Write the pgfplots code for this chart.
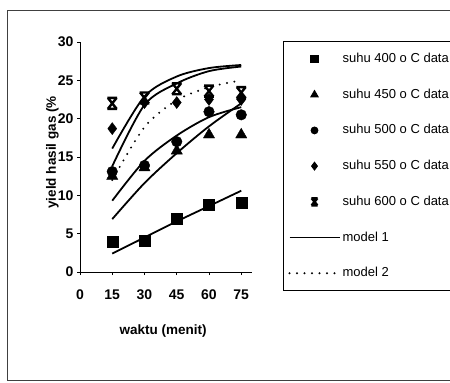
\documentclass[border=0pt]{standalone}
\usepackage{fontspec}
\setmainfont{Liberation Sans}
\usepackage{pgfplots}
\usepackage{pgfplotstable}
\pgfplotsset{compat=1.18}
\usetikzlibrary{plotmarks}

\pgfdeclareplotmark{xstar}{%
  \pgfpathmoveto{\pgfpoint{-0.8\pgfplotmarksize}{-\pgfplotmarksize}}%
  \pgfpathlineto{\pgfpoint{0.8\pgfplotmarksize}{\pgfplotmarksize}}%
  \pgfpathmoveto{\pgfpoint{-0.8\pgfplotmarksize}{\pgfplotmarksize}}%
  \pgfpathlineto{\pgfpoint{0.8\pgfplotmarksize}{-\pgfplotmarksize}}%
  \pgfpathmoveto{\pgfpoint{-0.9\pgfplotmarksize}{\pgfplotmarksize}}%
  \pgfpathlineto{\pgfpoint{0.9\pgfplotmarksize}{\pgfplotmarksize}}%
  \pgfpathmoveto{\pgfpoint{-0.9\pgfplotmarksize}{-\pgfplotmarksize}}%
  \pgfpathlineto{\pgfpoint{0.9\pgfplotmarksize}{-\pgfplotmarksize}}%
  \pgfusepathqstroke}

% data: waktu, yield
\pgfplotstableread{
x y
15 3.9
30 4.1
45 7.0
60 8.8
75 9.1
}\dA
\pgfplotstableread{
x y
15 12.5
30 13.6
45 15.8
60 17.9
75 17.9
}\dB
\pgfplotstableread{
x y
15 13.1
30 13.9
45 17.0
60 20.9
75 20.5
}\dC
\pgfplotstableread{
x y
15 18.7
30 22.1
45 22.1
60 22.5
75 22.5
}\dD
\pgfplotstableread{
x y
15 22.0
30 22.7
45 23.9
60 23.6
75 23.4
}\dE
% model 1
\pgfplotstableread{
x y
15 2.4
30 4.5
45 6.6
60 8.6
75 10.6
}\mA
\pgfplotstableread{
x y
15 6.9
30 11.6
45 15.5
60 19.0
75 22.0
}\mB
\pgfplotstableread{
x y
15 9.3
30 14.5
45 17.8
60 20.2
75 21.5
}\mC
\pgfplotstableread{
x y
15 13.8
30 21.8
45 24.6
60 26.2
75 26.8
}\mD
\pgfplotstableread{
x y
15 16.1
30 22.9
45 25.5
60 26.6
75 27.0
}\mE
% model 2
\pgfplotstableread{
x y
15 12.0
30 18.9
45 22.4
60 24.1
75 25.0
}\mF

\begin{document}
\begin{tikzpicture}[x=1pt,y=1pt]
\path[use as bounding box] (0,0) rectangle (450,383);
\clip (0,0) rectangle (450,383);
\draw[line width=1pt, black!75] (7,2) rectangle (470,372);
\begin{axis}[
  at={(80pt,111pt)}, anchor=south west,
  scale only axis, width=172pt, height=230pt,
  xmin=0, xmax=80, ymin=0, ymax=30,
  xtick={0,15,30,45,60,75}, ytick={0,5,...,30},
  axis x line*=bottom, axis y line*=left,
  axis line style={-, line width=0.8pt},
  tick align=outside, major tick length=3pt,
  tick style={black, line width=0.8pt},
  /pgf/number format/assume math mode=true,
  ticklabel style={font=\bfseries\fontsize{14}{14}\selectfont},
  xticklabel style={yshift=-11pt},
  xlabel={waktu (menit)},
  ylabel={yield hasil gas (\%},
  label style={font=\bfseries\fontsize{13.5}{13.5}\selectfont},
  xlabel style={at={(axis description cs:0.483,-0.257)}, anchor=center},
  ylabel style={at={(axis description cs:-0.16,0.52)}, anchor=center},
  legend cell align=left,
  legend style={at={(axis description cs:1.18,1.004)}, anchor=north west,
    draw=black, line width=0.9pt, inner xsep=5pt, inner ysep=11pt,
    row sep=22.7pt,
    font=\fontsize{13}{13}\selectfont,
    nodes={text height=10pt, text depth=3pt, inner ysep=0pt}},
  legend image code/.code={%
    \draw[mark repeat=2,mark phase=2,every mark/.append style={scale=0.65},#1]
      plot coordinates {(0pt,0pt) (25pt,0pt) (50pt,0pt)};},
]
\addplot[only marks, mark=square*, mark size=5.5pt, black] table {\dA};
\addlegendentry{suhu 400 o C data}
\addplot[only marks, mark=triangle*, mark size=6.5pt, black] table {\dB};
\addlegendentry{suhu 450 o C data}
\addplot[only marks, mark=*, mark size=5.3pt, black] table {\dC};
\addlegendentry{suhu 500 o C data}
\addplot[only marks, mark=diamond*, mark size=6pt, black] table {\dD};
\addlegendentry{suhu 550 o C data}
\addplot[only marks, mark=xstar, mark size=5.5pt, black, mark options={line width=2.4pt}] table {\dE};
\addlegendentry{suhu 600 o C data}
\addplot[black, line width=1.8pt, smooth, no marks] table {\mA};
\addlegendentry{model 1}
\addplot[black, line width=1.8pt, smooth, no marks, forget plot] table {\mB};
\addplot[black, line width=1.8pt, smooth, no marks, forget plot] table {\mC};
\addplot[black, line width=1.8pt, smooth, no marks, forget plot] table {\mD};
\addplot[black, line width=1.8pt, smooth, no marks, forget plot] table {\mE};
\addplot[black, line width=2.2pt, smooth, no marks, line cap=round, dash pattern=on 0pt off 7.5pt] table {\mF};
\addlegendentry{model 2}
\end{axis}
\end{tikzpicture}
\end{document}
